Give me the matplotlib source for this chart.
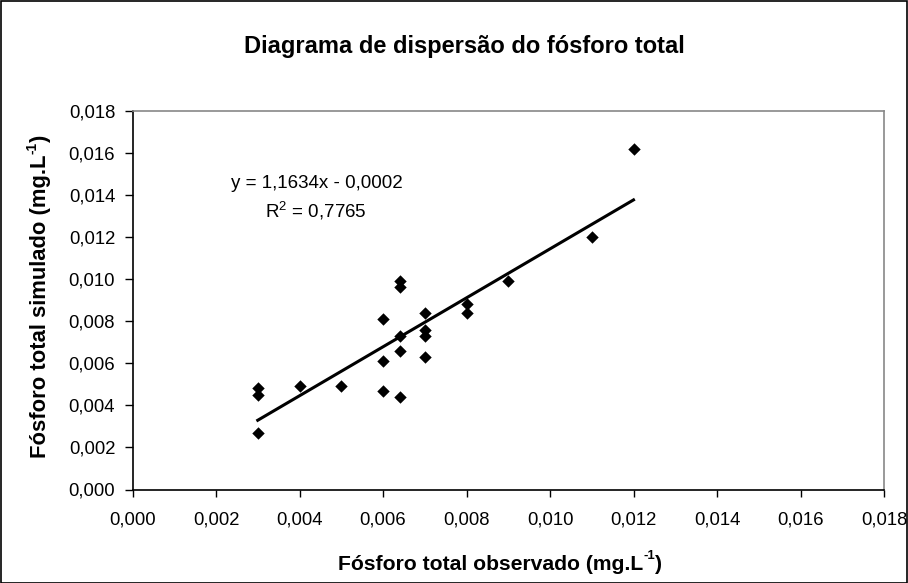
import matplotlib
matplotlib.use("Agg")
import matplotlib.pyplot as plt
from matplotlib.ticker import FuncFormatter
from matplotlib.patches import Rectangle
from matplotlib.transforms import IdentityTransform
import numpy as np

plt.rcParams['font.family'] = ['Liberation Sans', 'DejaVu Sans']
plt.rcParams['mathtext.fontset'] = 'custom'
plt.rcParams['mathtext.rm'] = 'Liberation Sans'

# Data
observado = [0.003, 0.003, 0.003, 0.004, 0.005, 0.006, 0.006, 0.006,
             0.0064, 0.0064, 0.0064, 0.0064, 0.0064,
             0.007, 0.007, 0.007, 0.007, 0.008, 0.008, 0.009, 0.011, 0.012]
simulado = [0.0048, 0.0045, 0.0027, 0.0049, 0.0049, 0.0081, 0.0061, 0.0047,
            0.0099, 0.0096, 0.0073, 0.0066, 0.0044,
            0.0084, 0.0076, 0.0073, 0.0063, 0.0088, 0.0084, 0.0099, 0.0120, 0.0162]
slope = 1.1634
intercept = -0.0002
r2 = 0.7765
ticks = [0.000, 0.002, 0.004, 0.006, 0.008, 0.010, 0.012, 0.014, 0.016, 0.018]

W, H = 908, 583
fig = plt.figure(figsize=(W / 100, H / 100), dpi=100)
fig.patch.set_facecolor('white')

left, right, top, bottom = 132.5, 884, 110.7, 489.5
ax = fig.add_axes([left / W, 1 - bottom / H, (right - left) / W, (bottom - top) / H])

ax.scatter(observado, simulado, marker='D', s=40, color='black', zorder=3, linewidths=0)

xs = np.array([min(observado), max(observado)])
ax.plot(xs, slope * xs + intercept, color='black', lw=2.2, zorder=2)

ax.set_xlim(0, 0.018)
ax.set_ylim(0, 0.018)
ax.set_xticks(ticks)
ax.set_yticks(ticks)
fmt = FuncFormatter(lambda v, p: f"{v:.3f}".replace('.', ','))
ax.xaxis.set_major_formatter(fmt)
ax.yaxis.set_major_formatter(fmt)
ax.tick_params(axis='both', direction='out', length=5, width=1, labelsize=13.3,
               color='black')
ax.tick_params(axis='y', pad=6.5, length=6)
ax.tick_params(axis='x', pad=10.5)

for s in ['left', 'bottom']:
    ax.spines[s].set_color('black')
    ax.spines[s].set_linewidth(1.2)
for s in ['top', 'right']:
    ax.spines[s].set_color('#888888')
    ax.spines[s].set_linewidth(1.2)

# Title
fig.text(464 / W, 1 - 46 / H, 'Diagrama de dispersão do fósforo total',
         ha='center', va='center', fontsize=17, fontweight='bold')

# Axis labels with superscript, assembled from pieces
renderer = fig.canvas.get_renderer()
ident = IdentityTransform()


def sup_label(xc, yc, base, sup, tail, size, vertical=False):
    # xc, yc in pixels from top-left
    ypix = H - yc
    kw = dict(fontsize=size, fontweight='bold', transform=ident)
    skw = dict(fontsize=size * 0.62, fontweight='bold', transform=ident)
    rot = 90 if vertical else 0
    t1 = fig.text(0, 0, base, rotation=rot, **kw)
    t2 = fig.text(0, 0, sup, rotation=rot, **skw)
    t3 = fig.text(0, 0, tail, rotation=rot, **kw)
    ext = [t.get_window_extent(renderer) for t in (t1, t2, t3)]
    raise_px = size * 100 / 72 * 0.38
    if not vertical:
        ws = [e.width for e in ext]
        x0 = xc - sum(ws) / 2
        for t in (t1, t2, t3):
            t.set_ha('left')
            t.set_va('center')
        t1.set_position((x0, ypix))
        t2.set_position((x0 + ws[0], ypix + raise_px))
        t3.set_position((x0 + ws[0] + ws[1], ypix))
    else:
        hs = [e.height for e in ext]
        y0 = ypix - sum(hs) / 2
        for t in (t1, t2, t3):
            t.set_va('bottom')
            t.set_ha('center')
        t1.set_position((xc, y0))
        t2.set_position((xc - raise_px, y0 + hs[0]))
        t3.set_position((xc, y0 + hs[0] + hs[1]))


sup_label(500, 564, 'Fósforo total observado (mg.L', '-1', ')', 15.2)
sup_label(40.5, 296, 'Fósforo total simulado (mg.L', '-1', ')', 15.8, vertical=True)

# Trend-line equation
eq = f"y = {slope:.4f}x - {abs(intercept):.4f}".replace('.', ',')
fig.text(317 / W, 1 - 183 / H, eq, ha='center', va='center', fontsize=13.5)
fig.text(316 / W, 1 - 211 / H, r'R$^2$ = ' + f"{r2:.4f}".replace('.', ','),
         ha='center', va='center', fontsize=13.5)

# Figure frame
fig.patches.append(Rectangle((0.5 / W, 0), 1 - 1.5 / W, 1 - 0.5 / H,
                             transform=fig.transFigure, fill=False,
                             edgecolor='black', lw=1.2))

fig.savefig('out.png', dpi=100, facecolor='white')
